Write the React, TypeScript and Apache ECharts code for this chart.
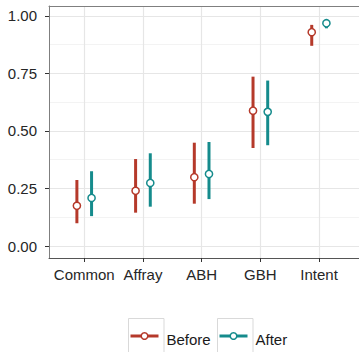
import React, { useEffect, useRef } from "react";
import * as echarts from "echarts";

const categories = ["Common", "Affray", "ABH", "GBH", "Intent"];
const beforeLow = [0.099, 0.145, 0.184, 0.426, 0.870];
const beforeMid = [0.175, 0.240, 0.299, 0.588, 0.929];
const beforeHigh = [0.287, 0.378, 0.449, 0.736, 0.961];
const afterLow = [0.130, 0.171, 0.204, 0.438, 0.946];
const afterMid = [0.209, 0.274, 0.313, 0.583, 0.968];
const afterHigh = [0.325, 0.403, 0.452, 0.719, 0.982];
const yTicks = [0, 0.25, 0.5, 0.75, 1.0];
const yMinor = [0.125, 0.375, 0.625, 0.875];

const RED = "#B5392A";
const TEAL = "#158B8C";
const FONT = "'Liberation Sans', Arial, sans-serif";

function makeSeries(name: string, color: string, lo: number[], mid: number[], hi: number[], dodge: number) {
  const data = categories.map((_, i) => [i, lo[i], mid[i], hi[i]]);
  return {
    type: "custom",
    name,
    xAxisIndex: 0,
    yAxisIndex: 0,
    data,
    renderItem: (params: any, api: any) => {
      const x = api.value(0);
      const unit = api.size([1, 0])[0];
      const off = dodge * unit;
      const pLo = api.coord([x, api.value(1)]);
      const pHi = api.coord([x, api.value(3)]);
      const pMid = api.coord([x, api.value(2)]);
      return {
        type: "group",
        children: [
          {
            type: "line",
            shape: { x1: pLo[0] + off, y1: pLo[1], x2: pHi[0] + off, y2: pHi[1] },
            style: { stroke: color, lineWidth: 3 },
          },
          {
            type: "circle",
            shape: { cx: pMid[0] + off, cy: pMid[1], r: 3.6 },
            style: { fill: "#ffffff", stroke: color, lineWidth: 1.5 },
          },
        ],
      };
    },
  };
}

function legendItem(x: number, label: string, color: string) {
  return [
    { type: "rect", shape: { x: x, y: 318.5, width: 35.5, height: 40 }, style: { fill: "#ffffff", stroke: "#d9d9d9", lineWidth: 1 } },
    { type: "line", shape: { x1: x + 2, y1: 336, x2: x + 30, y2: 336 }, style: { stroke: color, lineWidth: 3 } },
    { type: "circle", shape: { cx: x + 16, cy: 336, r: 3.3 }, style: { fill: "#ffffff", stroke: color, lineWidth: 1.5 } },
    { type: "text", x: x + 38, y: 339, style: { text: label, font: `15px ${FONT}`, fill: "#1a1a1a", verticalAlign: "middle", align: "left" } },
  ];
}

export default function App() {
  const ref = useRef<HTMLDivElement>(null);
  useEffect(() => {
    if (!ref.current) return;
    const chart = echarts.init(ref.current, null, { renderer: "svg" });
    chart.setOption({
      animation: false,
      backgroundColor: "#ffffff",
      grid: {
        left: 49,
        top: 6,
        width: 316,
        height: 252,
        show: false,
      },
      xAxis: [
        {
          type: "value",
          min: -0.6,
          max: 4.68,
          position: "bottom",
          axisLine: { show: true, onZero: false, lineStyle: { color: "#555555", width: 1 } },
          axisTick: { show: true, length: 4, lineStyle: { color: "#333333" }, customValues: [0, 1, 2, 3, 4] },
          axisLabel: {
            customValues: [0, 1, 2, 3, 4],
            formatter: (v: number) => categories[Math.round(v)] ?? "",
            color: "#262626",
            fontFamily: FONT,
            fontSize: 15,
            margin: 9,
          },
          splitLine: { show: true, lineStyle: { color: "#e6e6e6", width: 1.2 } },
        },
        {
          type: "value",
          min: -0.6,
          max: 4.68,
          position: "top",
          axisLine: { show: true, onZero: false, lineStyle: { color: "#7f7f7f", width: 1 } },
          axisTick: { show: false },
          axisLabel: { show: false },
          splitLine: { show: false },
        },
      ],
      yAxis: [
        {
          type: "value",
          min: -0.052,
          max: 1.043,
          axisLine: { show: true, onZero: false, lineStyle: { color: "#7f7f7f", width: 1 } },
          axisTick: { show: true, length: 4, lineStyle: { color: "#333333" }, customValues: yTicks },
          axisLabel: {
            customValues: yTicks,
            formatter: (v: number) => v.toFixed(2),
            color: "#262626",
            fontFamily: FONT,
            fontSize: 15,
            margin: 12,
          },
          splitLine: { show: true, lineStyle: { color: "#e6e6e6", width: 1.2 } },
        },
        {
          type: "value",
          min: -0.052,
          max: 1.043,
          position: "left",
          axisLine: { show: false, onZero: false },
          axisTick: { show: false, customValues: yMinor },
          axisLabel: { show: false },
          splitLine: { show: true, lineStyle: { color: "#f3f3f3", width: 1 } },
        },
      ],
      series: [
        makeSeries("Before", RED, beforeLow, beforeMid, beforeHigh, -0.125),
        makeSeries("After", TEAL, afterLow, afterMid, afterHigh, 0.125),
      ],
      graphic: [...legendItem(128.5, "Before", RED), ...legendItem(217.5, "After", TEAL)],
    });
    return () => chart.dispose();
  }, []);
  return <div ref={ref} style={{ position: "fixed", left: 0, top: 0, width: 359, height: 352 }} />;
}
